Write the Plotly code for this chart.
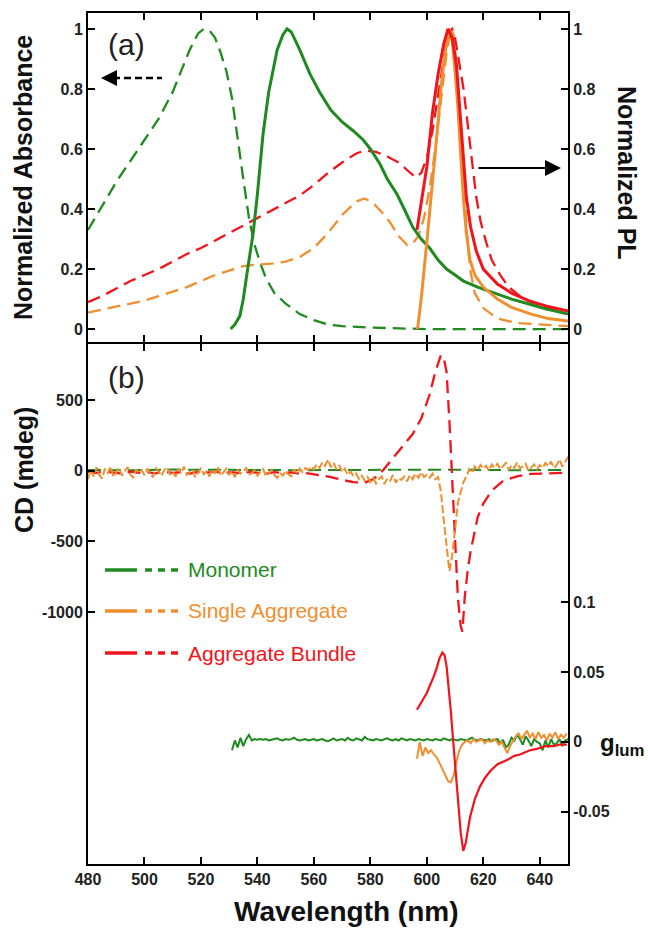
import plotly.graph_objects as go

# ---------------- data: panel (a) ----------------
abs_mono_wl = [480, 485, 490, 495, 500, 505, 510, 513, 516, 519, 521, 523, 525, 527, 529, 531, 533, 535, 537, 539,
               541, 543, 546, 550, 555, 560, 565, 570, 580, 590, 600, 620, 650]
abs_mono = [0.33, 0.41, 0.49, 0.56, 0.63, 0.70, 0.79, 0.86, 0.93, 0.985, 1.0, 0.995, 0.97, 0.92, 0.86, 0.77, 0.63, 0.50,
            0.37, 0.28, 0.22, 0.17, 0.12, 0.085, 0.05, 0.03, 0.015, 0.01, 0.005, 0.002, 0.0, 0.0, 0.0]

pl_mono_wl = [530.5, 532, 533.8, 535, 536.7, 538.5, 540, 542, 544, 545.6, 547, 549, 550.5, 552, 555, 558.6, 562, 566,
              570, 574, 577.5, 580, 583.4, 586, 589.4, 592, 595, 598, 601, 604, 607, 610, 613, 618, 625, 630, 636.5,
              642, 650]
pl_mono = [0.0, 0.015, 0.044, 0.10, 0.21, 0.32, 0.45, 0.65, 0.79, 0.87, 0.93, 0.98, 1.0, 0.99, 0.93, 0.85, 0.79, 0.73,
           0.69, 0.66, 0.63, 0.60, 0.55, 0.50, 0.45, 0.40, 0.34, 0.30, 0.27, 0.23, 0.20, 0.18, 0.16, 0.14, 0.117, 0.10,
           0.083, 0.068, 0.05]

abs_single_wl = [480, 485, 490, 495, 500, 505, 510, 515, 520, 525, 530, 535, 540, 545, 550, 555, 560, 565, 570, 575,
                 578, 581, 584, 587, 590, 593, 595, 597, 599, 601, 603, 605, 607, 608.5, 609.5, 610.5, 611.5, 612.5,
                 613.5, 614.5, 615.5, 617, 620, 625, 632, 640, 650]
abs_single = [0.055, 0.065, 0.075, 0.085, 0.095, 0.11, 0.125, 0.14, 0.16, 0.18, 0.195, 0.21, 0.215, 0.218, 0.225, 0.24,
              0.27, 0.32, 0.38, 0.425, 0.435, 0.42, 0.39, 0.355, 0.31, 0.28, 0.285, 0.31, 0.37, 0.47, 0.60, 0.76, 0.92,
              1.0, 0.98, 0.88, 0.72, 0.56, 0.40, 0.28, 0.19, 0.12, 0.07, 0.035, 0.02, 0.015, 0.01]

pl_single_wl = [596.7, 598, 600, 602, 603.6, 605, 606.5, 608, 609, 610, 611, 612, 613, 614, 615.3, 617, 620, 625, 630,
                637, 643, 650]
pl_single = [0.0, 0.10, 0.29, 0.48, 0.65, 0.80, 0.93, 1.0, 0.96, 0.86, 0.74, 0.58, 0.43, 0.32, 0.23, 0.18, 0.14, 0.10,
             0.072, 0.05, 0.035, 0.027]

abs_bundle_wl = [480, 485, 490, 495, 500, 505, 510, 515, 520, 525, 530, 535, 540, 545, 550, 555, 560, 565, 570, 575,
                 578, 582, 586, 590, 593, 596, 598, 600, 602, 604, 606, 608, 609, 610, 611.5, 613, 614.5, 616, 617.5,
                 619, 621, 623, 626, 629, 633, 637, 642, 650]
abs_bundle = [0.09, 0.11, 0.135, 0.16, 0.18, 0.20, 0.225, 0.25, 0.27, 0.295, 0.32, 0.345, 0.37, 0.395, 0.42, 0.445,
              0.48, 0.52, 0.555, 0.585, 0.595, 0.59, 0.575, 0.555, 0.53, 0.505, 0.52, 0.57, 0.66, 0.78, 0.90, 0.99,
              1.0, 0.97, 0.89, 0.80, 0.68, 0.56, 0.44, 0.36, 0.29, 0.23, 0.18, 0.14, 0.11, 0.09, 0.075, 0.06]

pl_bundle_wl = [596.5, 598, 600, 602, 604, 606, 607.5, 609, 610.5, 612, 613, 614, 615.5, 617.5, 620, 625, 630, 636,
                643, 650]
pl_bundle = [0.33, 0.42, 0.54, 0.72, 0.85, 0.95, 1.0, 0.97, 0.88, 0.69, 0.56, 0.44, 0.34, 0.26, 0.20, 0.15, 0.12,
             0.095, 0.075, 0.06]

# ---------------- data: panel (b) ----------------
cd_mono_wl = [480, 495, 510, 525, 540, 555, 570, 585, 600, 615, 630, 645, 650]
cd_mono = [6, 4, 8, 5, 7, 4, 6, 8, 5, 7, 4, 6, 5]

cd_single_wl = list(range(480, 651))
cd_single = [-60, 10, -40, 25, -30, -55, 15, -20, 30, -45, -10, 20, -35, -5, 25, -25, -50, 10, -15, 5,
             -30, 15, -20, -45, 20, -10, -35, 5, 25, -25, -5, -40, 15, -20, 30, -30, -10, 10, -45, -15,
             20, -25, -5, -40, 10, -20, 25, -35, -10, 15, -30, 0, -45, 10, -20, -5, 20, -30, -15, 5,
             -35, -10, 15, -40, -20, 5, -30, -50, -15, -35, 0, -25, -40, 10, -20, 15, -10, 20, 5, 30,
             10, 45, 20, 60, 35, 80, 25, 55, 10, 40, -10, 15, -30, -5, -40, -20, -60, -35, -70, -45,
             -80, -50, -90, -60, -40, -95, -55, -70, -30, -85, -50, -65, -40, -75, -30, -60, -20, -50, -10, -45,
             -30, -50, -20, -60, -45, -150, -350, -540, -710, -600, -400, -230, -150, -80, -40, 10, -15,
             30, 5, 40, 15, 35, 0, 45, 20, 50, 10, 30, 55, 5, 40, 20, 60, 15, 35, 50, 0, 25, 45, 10, 40,
             20, 55, 30, 65, 20, 40, 80, 30, 60, 100]

cd_bundle_wl = [480, 483, 486, 489, 492, 495, 498, 501, 504, 507, 510, 513, 516, 519, 522, 525, 528, 531, 534, 537,
                540, 543, 546, 549, 552, 555, 558, 562, 566, 570, 574, 578, 581, 583.5, 586, 589, 592, 595, 598, 601,
                603, 605, 606, 607, 608, 609, 610, 611, 612, 612.6, 613.4, 614.5, 615.5, 616.4, 618, 620, 623, 627,
                632, 637, 643, 650]
cd_bundle = [-8, -15, -5, -12, -20, -6, -14, -9, -18, -7, -15, -10, -20, -8, -14, -6, -16, -10, -18, -8,
             -12, -20, -10, -16, -12, -22, -18, -30, -45, -65, -80, -85, -60, -20, 40, 110, 180, 260, 370, 540,
             700, 820, 800, 700, 350, -100, -450, -900, -1100, -1140, -900, -700, -570, -474, -330, -233, -140, -71,
             -40, -22, -16, -14]

glum_mono_wl = list(range(531, 651))
glum_mono = [-0.006, 0.001, -0.004, 0.003, -0.003, 0.002, 0.005, 0.001, 0.002, 0.0015,
             0.002, 0.0015, 0.002, 0.001, 0.0015, 0.002, 0.0025, 0.0015, 0.001, 0.002,
             0.0015, 0.002, 0.003, 0.0015, 0.001, 0.0015, 0.002, 0.001, 0.0015, 0.002,
             0.001, 0.0015, 0.002, 0.001, 0.0005, 0.0015, 0.0025, 0.001, 0.0015, 0.002,
             0.001, 0.003, 0.0015, 0.001, 0.0025, 0.002, 0.001, 0.0035, 0.002, 0.0015,
             0.001, 0.002, 0.0015, 0.001, 0.002, 0.0025, 0.0015, 0.001, 0.002, 0.001,
             0.0025, 0.0015, 0.001, 0.002, 0.0015, 0.001, 0.002, 0.0015, 0.001, 0.002,
             0.0015, 0.001, 0.002, 0.0015, 0.001, 0.0025, 0.0015, 0.001, 0.002, 0.0015,
             0.001, 0.002, 0.0015, 0.001, 0.002, 0.003, 0.0015, 0.001, 0.002, 0.0015,
             0.001, 0.002, 0.0005, 0.0015, 0.002, -0.001, 0.0015, -0.004, -0.002, 0.003,
             0.001, 0.005, 0.002, -0.002, 0.004, 0.001, -0.003, 0.002, 0.0, -0.001,
             -0.006, 0.001, -0.004, 0.002, -0.002, -0.001, 0.002, -0.003, 0.001, 0.002]

glum_single_wl = [596.5 + i for i in range(54)]
glum_single = [-0.012, 0.0, -0.010, -0.004, -0.008, -0.006, -0.009, -0.011, -0.015, -0.019, -0.024, -0.028, -0.029,
               -0.024, -0.014, -0.006, -0.002, 0.0,
               0.001, -0.001, 0.002, 0.0, 0.001, 0.002, -0.001, 0.001, 0.0, 0.002, 0.001, -0.002, 0.0, -0.004,
               -0.008, -0.003, 0.001, 0.004, 0.006, 0.002, 0.005, 0.008, 0.003, 0.006, 0.002, 0.007, 0.003, 0.005,
               0.001, 0.006, 0.003, 0.007, 0.002, 0.005, 0.003, 0.006]

glum_bundle_wl = [596.5, 598, 600, 601, 602.3, 603.5, 604.5, 605.5, 606.3, 607, 607.6, 608.5, 609.4, 610.2, 611, 612,
                  612.9, 613.8, 615.3, 617, 618.8, 620.5, 622.4, 625, 628.4, 631, 633, 636.5, 639, 642, 645, 647,
                  649.6]
glum_bundle = [0.023, 0.028, 0.035, 0.040, 0.046, 0.053, 0.060, 0.064, 0.062, 0.054, 0.042, 0.022, -0.001, -0.022,
               -0.042, -0.065, -0.078, -0.072, -0.054, -0.041, -0.032, -0.026, -0.021, -0.016, -0.013, -0.010, -0.009,
               -0.006, -0.005, -0.003, -0.003, -0.002, -0.002]

series_names = ["Monomer", "Single Aggregate", "Aggregate Bundle"]
x_ticks = [480, 500, 520, 540, 560, 580, 600, 620, 640]
abs_ticks = [0, 0.2, 0.4, 0.6, 0.8, 1]
abs_tick_text = ["0", "0.2", "0.4", "0.6", "0.8", "1"]
cd_ticks = [-1000, -500, 0, 500]
cd_tick_text = ["-1000", "-500", "0", "500"]
glum_ticks = [-0.05, 0, 0.05, 0.1]
glum_tick_text = ["-0.05", "0", "0.05", "0.1"]

GREEN = "#1f8a1f"
ORANGE = "#ef8f2f"
RED = "#f2141c"
DASH = "13px,7px"
FONT = "Liberation Sans, Arial, sans-serif"

# ---------------- figure ----------------
W, H = 648, 928
ML, MR, MT, MB = 88, 80, 13, 64
PW, PH = W - ML - MR, H - MT - MB
DIV = (864 - 343) / PH
GAP = 1.0 / PH


def px(xp):
    return (xp - ML) / PW


def py(yp):
    return (H - MB - yp) / PH


fig = go.Figure()

def add(x, y, color, xa, ya, dash=None, width=2.5):
    fig.add_trace(go.Scatter(x=x, y=y, mode="lines", xaxis=xa, yaxis=ya, showlegend=False, hoverinfo="skip",
                             line=dict(color=color, width=width, dash=dash)))

# panel a
add(abs_mono_wl, abs_mono, GREEN, "x", "y", DASH, 2.3)
add(abs_single_wl, abs_single, ORANGE, "x", "y", DASH, 2.3)
add(abs_bundle_wl, abs_bundle, RED, "x", "y", DASH, 2.3)
add(pl_mono_wl, pl_mono, GREEN, "x", "y2", None, 3)
add(pl_single_wl, pl_single, ORANGE, "x", "y2", None, 3)
add(pl_bundle_wl, pl_bundle, RED, "x", "y2", None, 3)

# panel b
add(cd_mono_wl, cd_mono, GREEN, "x2", "y3", DASH, 2)
add(cd_bundle_wl, cd_bundle, RED, "x2", "y3", DASH, 2.3)
add(cd_single_wl, cd_single, ORANGE, "x2", "y3", "8px,3px", 2)
add(glum_mono_wl, glum_mono, GREEN, "x2", "y4", None, 2)
add(glum_single_wl, glum_single, ORANGE, "x2", "y4", None, 2)
add(glum_bundle_wl, glum_bundle, RED, "x2", "y4", None, 2.2)

tickfont = dict(family=FONT, size=16, color="#222", weight="bold")
common_x = dict(range=[480, 650], tickvals=x_ticks, ticks="inside", ticklen=7, tickwidth=2, tickcolor="black",
                showline=True, linewidth=2, linecolor="black", mirror="ticks", showgrid=False, zeroline=False,
                tickfont=tickfont)
common_y = dict(ticks="inside", ticklen=7, tickwidth=2, tickcolor="black", showline=True, linewidth=2,
                linecolor="black", showgrid=False, zeroline=False, tickfont=tickfont)

abs_range = [-0.043, 1.053]
cd_range = [-2786, 898]
glum_range = [-0.0874, 0.2848]

fig.update_layout(
    width=W, height=H, margin=dict(l=ML, r=MR, t=MT, b=MB, pad=0),
    paper_bgcolor="white", plot_bgcolor="white", showlegend=False,
    xaxis=dict(common_x, domain=[0, 1], anchor="y", showticklabels=False),
    xaxis2=dict(common_x, domain=[0, 1], anchor="y3"),
    yaxis=dict(common_y, domain=[DIV + GAP, 1], anchor="x", range=abs_range, tickvals=abs_ticks,
               ticktext=abs_tick_text),
    yaxis2=dict(common_y, overlaying="y", side="right", anchor="x", range=abs_range, tickvals=abs_ticks,
                ticktext=abs_tick_text),
    yaxis3=dict(common_y, domain=[0, DIV - GAP], anchor="x2", range=cd_range, tickvals=cd_ticks,
                ticktext=cd_tick_text),
    yaxis4=dict(common_y, overlaying="y3", side="right", anchor="x2", range=glum_range, tickvals=glum_ticks,
                ticktext=glum_tick_text),
)

ann = []
title_font = dict(family=FONT, size=25, color="#111")
ann.append(dict(text="<b>Normalized Absorbance</b>", x=px(23), y=py(178), xref="paper", yref="paper",
                textangle=-90, showarrow=False, font=title_font, xanchor="center", yanchor="middle"))
ann.append(dict(text="<b>Normalized PL</b>", x=px(627), y=py(173), xref="paper", yref="paper",
                textangle=90, showarrow=False, font=title_font, xanchor="center", yanchor="middle"))
ann.append(dict(text="<b>CD (mdeg)</b>", x=px(24), y=py(470), xref="paper", yref="paper",
                textangle=-90, showarrow=False, font=title_font, xanchor="center", yanchor="middle"))
ann.append(dict(text="<b>g<sub>lum</sub></b>", x=px(647), y=py(744), xref="paper", yref="paper",
                showarrow=False, font=dict(family=FONT, size=24, color="#111"), xanchor="right",
                yanchor="middle"))
ann.append(dict(text="<b>Wavelength (nm)</b>", x=px(346), y=py(911), xref="paper", yref="paper",
                showarrow=False, font=dict(family=FONT, size=28, color="#111"), xanchor="center",
                yanchor="middle"))
ann.append(dict(text="(a)", x=px(106), y=py(44), xref="paper", yref="paper", showarrow=False,
                font=dict(family=FONT, size=30, color="#222"), xanchor="left", yanchor="middle"))
ann.append(dict(text="(b)", x=px(106), y=py(377), xref="paper", yref="paper", showarrow=False,
                font=dict(family=FONT, size=30, color="#222"), xanchor="left", yanchor="middle"))

# arrows
ann.append(dict(text="", x=px(101), y=py(78), xref="paper", yref="paper", showarrow=True, ax=14, ay=0,
                arrowhead=2, arrowsize=1.6, arrowwidth=2, arrowcolor="black"))
ann.append(dict(text="", x=px(561), y=py(168), xref="paper", yref="paper", showarrow=True, ax=-84, ay=0,
                arrowhead=2, arrowsize=1.6, arrowwidth=2, arrowcolor="black"))

shapes = [dict(type="line", xref="paper", yref="paper", x0=px(113), x1=px(162), y0=py(78), y1=py(78),
               line=dict(color="black", width=2.5, dash="7px,4px"))]

# legend
leg_y = [570, 611, 653]
for name, col, yy in zip(series_names, [GREEN, ORANGE, RED], leg_y):
    shapes.append(dict(type="line", xref="paper", yref="paper", x0=px(105), x1=px(137), y0=py(yy), y1=py(yy),
                       line=dict(color=col, width=3.5)))
    shapes.append(dict(type="line", xref="paper", yref="paper", x0=px(145), x1=px(180), y0=py(yy), y1=py(yy),
                       line=dict(color=col, width=3.5, dash="7px,6px")))
    ann.append(dict(text=name, x=px(186), y=py(yy), xref="paper", yref="paper", showarrow=False,
                    font=dict(family=FONT, size=21, color=col), xanchor="left", yanchor="middle"))

fig.update_layout(annotations=ann, shapes=shapes)
fig.write_html("out.html", config={"displayModeBar": False},
               post_script="document.body.style.margin='0';document.body.style.overflow='hidden';")
